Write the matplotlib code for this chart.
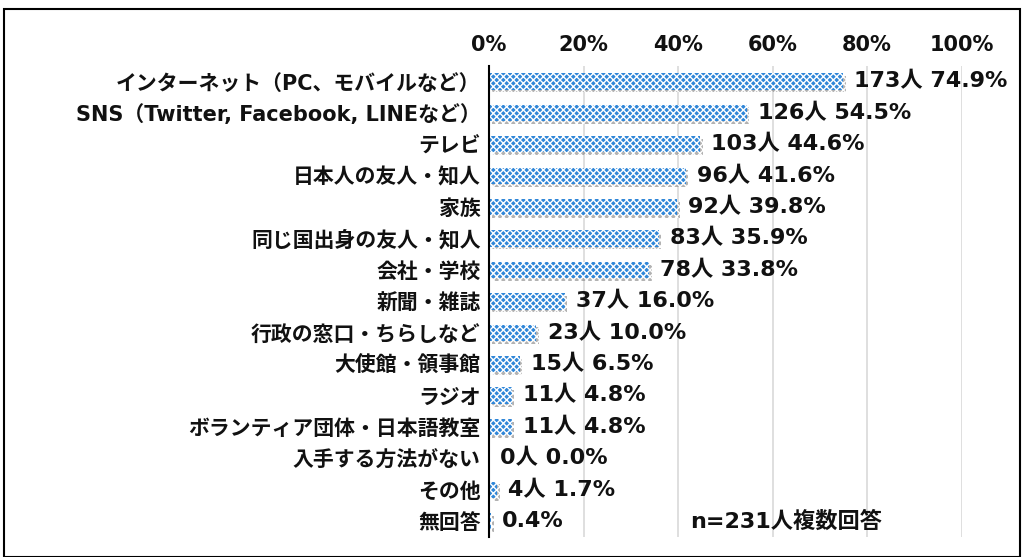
import numpy as np
import matplotlib.pyplot as plt
import matplotlib.patheffects as pe
from matplotlib.patches import Rectangle
from matplotlib.ticker import PercentFormatter

# Latin glyphs from DejaVu (wide, like the original), Japanese from Noto CJK
plt.rcParams["font.family"] = ["DejaVu Sans", "Noto Sans CJK JP"]
plt.rcParams["hatch.color"] = "white"
plt.rcParams["hatch.linewidth"] = 1.0

categories = [
    "インターネット（PC、モバイルなど）",
    "SNS（Twitter, Facebook, LINEなど）",
    "テレビ",
    "日本人の友人・知人",
    "家族",
    "同じ国出身の友人・知人",
    "会社・学校",
    "新聞・雑誌",
    "行政の窓口・ちらしなど",
    "大使館・領事館",
    "ラジオ",
    "ボランティア団体・日本語教室",
    "入手する方法がない",
    "その他",
    "無回答",
]
counts = [173, 126, 103, 96, 92, 83, 78, 37, 23, 15, 11, 11, 0, 4, 1]
percents = [74.9, 54.5, 44.6, 41.6, 39.8, 35.9, 33.8, 16.0, 10.0, 6.5, 4.8, 4.8, 0.0, 1.7, 0.4]
value_labels = [f"{c}人 {p:.1f}%" for c, p in zip(counts, percents)]
value_labels[-1] = "0.4%"  # count is hidden in the original

BAR_BLUE = "#2F86D8"
TXT = "#111111"

fig = plt.figure(figsize=(10.24, 5.57), dpi=100)
ax = fig.add_axes([0.4775, 0.036, 0.4617, 0.846])

y = np.arange(len(categories))
bars = ax.barh(y, percents, height=0.52, color=BAR_BLUE, hatch="xxxxx",
               edgecolor="white", linewidth=0, zorder=3)
for b in bars:
    b.set_path_effects([pe.SimplePatchShadow(offset=(2, -2), shadow_rgbFace="#808080", alpha=0.6),
                        pe.Normal()])

for yi, p, lab in zip(y, percents, value_labels):
    ax.text(p + 2.4, yi, lab, va="center", ha="left", fontsize=16,
            fontweight="bold", color=TXT)

ax.set_xlim(0, 100)
ax.set_ylim(len(categories) - 0.5, -0.5)
ax.set_xticks(np.arange(0, 101, 20))
ax.xaxis.set_major_formatter(PercentFormatter(decimals=0))
ax.xaxis.tick_top()
ax.set_yticks(y)
ax.set_yticklabels(categories)
ax.tick_params(axis="x", length=0, pad=8, labelsize=15)
ax.tick_params(axis="y", length=0, pad=6, labelsize=15)
for t in ax.get_xticklabels() + ax.get_yticklabels():
    t.set_fontweight("bold")
    t.set_color(TXT)

ax.grid(axis="x", color="#D9D9D9", linewidth=1.2, zorder=0)
for s in ["top", "right", "bottom"]:
    ax.spines[s].set_visible(False)
ax.spines["left"].set_linewidth(1.5)
ax.spines["left"].set_color("black")
ax.spines["left"].set_zorder(4)

ax.text(42.5, 14, "n=231人複数回答", va="center", ha="left", fontsize=16,
        fontweight="bold", color=TXT)

fig.patches.append(Rectangle((0.004, 0.0), 0.992, 0.984, transform=fig.transFigure,
                             fill=False, edgecolor="black", linewidth=1.5))

fig.savefig("out.png", dpi=100)
